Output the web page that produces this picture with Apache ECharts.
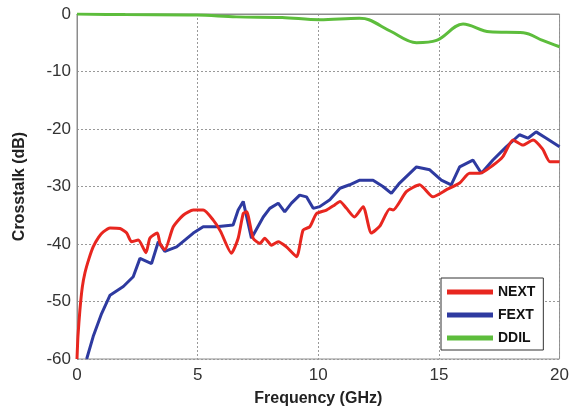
<!DOCTYPE html>
<html>
<head>
<meta charset="utf-8">
<script src="https://cdn.jsdelivr.net/npm/echarts@6/dist/echarts.min.js"></script>
<style>
html, body { margin: 0; padding: 0; background: #fff; }
#chart { width: 572px; height: 414px; }
</style>
</head>
<body>
<div id="chart"></div>
<script>
// values: [GHz, dB]
var nextData = [
    [0, -60], [0.04, -56], [0.12, -51.5], [0.22, -47.5], [0.33, -45], [0.5, -42.5], [0.67, -40.5], [0.9, -38.8], [1.09, -37.9], [1.37, -37.2],
    [1.78, -37.3], [2.06, -38.1], [2.26, -39.6], [2.54, -39.3], [2.86, -41.5], [3.02, -39.0],
    [3.33, -38.1], [3.44, -39.9], [3.64, -41.0], [3.99, -37.0], [4.4, -35.0], [4.82, -34.1],
    [5.23, -34.1], [5.64, -35.8], [5.95, -37.8], [6.4, -41.6], [6.68, -39.0], [6.89, -34.7],
    [7.03, -34.4], [7.3, -39.0], [7.58, -39.9], [7.78, -39.0], [8.06, -40.2], [8.34, -39.6],
    [8.68, -40.5], [9.1, -42.2], [9.37, -37.6], [9.65, -37.0], [9.93, -34.7], [10.34, -34.1],
    [10.68, -33.2], [10.9, -32.6], [11.17, -33.8], [11.5, -35.3], [11.86, -33.5], [12.2, -38.1],
    [12.55, -36.9], [12.96, -33.9], [13.1, -34.1], [13.65, -30.9], [14.2, -29.7], [14.75, -31.8],
    [15.3, -30.6], [15.86, -29.4], [16.27, -27.7], [16.7, -27.7], [17.24, -26.3], [17.65, -24.8],
    [18.07, -21.9], [18.48, -22.8], [18.9, -21.9], [19.3, -23.5], [19.6, -25.7], [20, -25.7]
];
var fextData = [
    [0.4, -60], [0.67, -56.1], [1.02, -52.1], [1.37, -48.9], [1.92, -47.4], [2.33, -45.7],
    [2.61, -42.5], [3.09, -43.4], [3.37, -39.6], [3.64, -41.3], [4.13, -40.5], [4.82, -38.1],
    [5.23, -37.0], [5.78, -37.0], [6.47, -36.7], [6.68, -34.1], [6.89, -32.6], [7.23, -39.0],
    [7.72, -35.3], [7.99, -33.8], [8.34, -32.9], [8.61, -34.4], [8.89, -32.9], [9.23, -31.5],
    [9.51, -31.8], [9.79, -33.8], [10.06, -33.5], [10.48, -32.3], [10.9, -30.3], [11.3, -29.7],
    [11.72, -28.9], [12.27, -28.9], [12.68, -30.0], [13.03, -31.2], [13.37, -29.4], [14.07, -26.6],
    [14.62, -27.1], [15.1, -28.9], [15.51, -29.7], [15.86, -26.6], [16.41, -25.4], [16.76, -27.7],
    [17.24, -25.4], [17.79, -23.1], [18.34, -21.0], [18.69, -21.6], [19.03, -20.5], [19.45, -21.6],
    [20, -23.1]
];
var ddilData = [
    [0, 0], [2, -0.1], [4.96, -0.17], [6.6, -0.5], [8.5, -0.6], [10.06, -1.0], [11.7, -0.75],
    [12.1, -1.0], [13, -3.0], [14.07, -5.0], [14.9, -4.6], [16.0, -1.74], [17.1, -3.1],
    [18.5, -3.25], [19.3, -4.6], [20, -5.7]
];
var seriesNames = ['NEXT', 'FEXT', 'DDIL'];
var seriesColors = ['#e8261f', '#2e3aa0', '#5dbd3c'];
var seriesSmooth = [0.2, 0, 0.35];

var myChart = echarts.init(document.getElementById('chart'));
var lineSeries = [nextData, fextData, ddilData].map(function (d, i) {
    return {
        name: seriesNames[i],
        type: 'line',
        data: d,
        showSymbol: false,
        smooth: seriesSmooth[i],
        lineStyle: { width: 3, color: seriesColors[i] },
        itemStyle: { color: seriesColors[i] },
        z: 10 - i
    };
});
var option = {
    animation: false,
    backgroundColor: '#fff',
    grid: { left: 77, right: 12, top: 14, bottom: 55, show: true, borderColor: '#8c8c8c', borderWidth: 1 },
    legend: {
        orient: 'vertical',
        left: 441, top: 278,
        data: seriesNames,
        icon: 'rect',
        itemWidth: 46, itemHeight: 5,
        itemGap: 9,
        padding: [7, 8, 5, 6],
        borderColor: '#333', borderWidth: 1,
        backgroundColor: '#fff',
        textStyle: { fontFamily: 'Liberation Sans', fontWeight: 'bold', fontSize: 14, color: '#111' }
    },
    xAxis: {
        type: 'value', min: 0, max: 20, interval: 5,
        name: 'Frequency (GHz)', nameLocation: 'middle', nameGap: 32,
        nameTextStyle: { fontFamily: 'Liberation Sans', fontWeight: 'bold', fontSize: 16, color: '#222' },
        axisLine: { show: true, lineStyle: { color: '#8c8c8c' } },
        axisTick: { show: false },
        axisLabel: { fontFamily: 'Liberation Sans', fontSize: 17, color: '#333', margin: 8 },
        splitLine: { show: true, lineStyle: { color: '#999', type: [2, 2], width: 1 } }
    },
    yAxis: {
        type: 'value', min: -60, max: 0, interval: 10,
        name: 'Crosstalk (dB)', nameLocation: 'middle', nameGap: 49,
        nameTextStyle: { fontFamily: 'Liberation Sans', fontWeight: 'bold', fontSize: 16, color: '#222' },
        axisLine: { show: true, lineStyle: { color: '#8c8c8c' } },
        axisTick: { show: false },
        axisLabel: { fontFamily: 'Liberation Sans', fontSize: 17, color: '#333', margin: 6 },
        splitLine: { show: true, lineStyle: { color: '#999', type: [2, 2], width: 1 } }
    },
    series: lineSeries
};
myChart.setOption(option);
</script>
</body>
</html>
